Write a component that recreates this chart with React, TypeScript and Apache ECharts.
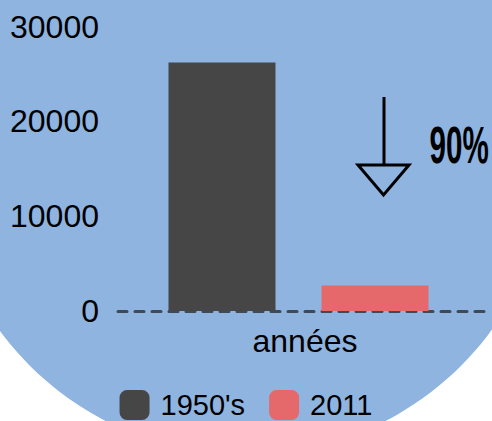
import React, { useEffect, useRef } from "react";
import * as echarts from "echarts";

const categories = ["années"];
const seriesNames = ["1950's", "2011"];
const values1950s = [26200];
const values2011 = [2700];
const yTicks = { min: 0, max: 30000, interval: 10000 };
const annotationText = "90%";

export default function App() {
  const ref = useRef<HTMLDivElement>(null);
  useEffect(() => {
    if (!ref.current) return;
    const chart = echarts.init(ref.current, undefined, { renderer: "svg" });
    const font = "Liberation Sans";
    chart.setOption({
      animation: false,
      backgroundColor: "#ffffff",
      textStyle: { fontFamily: font },
      graphic: [
        {
          type: "circle",
          z: -1,
          silent: true,
          shape: { cx: 245.5, cy: 150, r: 305 },
          style: { fill: "#8FB4E0" },
        },
        {
          type: "line",
          z: 10,
          shape: { x1: 384, y1: 97, x2: 384, y2: 165 },
          style: { stroke: "#000", lineWidth: 3 },
        },
        {
          type: "polygon",
          z: 10,
          shape: { points: [[358, 165], [409, 165], [383.5, 195]] },
          style: { stroke: "#000", lineWidth: 3, fill: "none", lineJoin: "miter" },
        },
        {
          type: "text",
          z: 10,
          x: 429.5,
          y: 145.5,
          scaleX: 0.58,
          style: {
            text: annotationText,
            font: 'bold 51px "Liberation Sans"',
            fill: "#000",
            textAlign: "left",
            textVerticalAlign: "middle",
          },
        },
      ],
      legend: {
        top: 390,
        left: "center",
        padding: 0,
        itemWidth: 30,
        itemHeight: 30,
        itemGap: 24,
        icon: "roundRect",
        textStyle: {
          fontSize: 29,
          color: "#000",
          fontFamily: font,
          padding: [0, 0, 0, 6],
        },
        data: seriesNames,
      },
      grid: [
        { left: 105, right: 0, top: 26.6, bottom: 110, outerBoundsMode: "none", containLabel: false },
        { left: 118, right: 0, top: 26.6, bottom: 110, outerBoundsMode: "none", containLabel: false },
      ],
      xAxis: [
        {
          type: "category",
          gridIndex: 0,
          data: categories,
          axisLine: { show: false },
          axisTick: { show: false },
          axisLabel: { show: false },
        },
        {
          type: "category",
          gridIndex: 1,
          data: categories,
          axisLine: {
            show: true,
            lineStyle: { color: "#3E4A56", width: 3, type: [9, 8] },
          },
          axisTick: { show: false },
          axisLabel: { fontSize: 32, color: "#000", margin: 14, fontFamily: font },
        },
      ],
      yAxis: [
        {
          type: "value",
          gridIndex: 0,
          min: yTicks.min,
          max: yTicks.max,
          interval: yTicks.interval,
          axisLine: { show: false },
          axisTick: { show: false },
          splitLine: { show: false },
          axisLabel: {
            fontSize: 32,
            color: "#000",
            margin: 6,
            fontFamily: font,
            formatter: (v: number) => String(v),
          },
        },
        {
          type: "value",
          gridIndex: 1,
          min: yTicks.min,
          max: yTicks.max,
          interval: yTicks.interval,
          show: false,
        },
      ],
      series: [
        {
          name: seriesNames[0],
          type: "bar",
          xAxisIndex: 0,
          yAxisIndex: 0,
          data: values1950s,
          barWidth: 107,
          barGap: "43%",
          itemStyle: { color: "#464646" },
        },
        {
          name: seriesNames[1],
          type: "bar",
          xAxisIndex: 0,
          yAxisIndex: 0,
          data: values2011,
          barWidth: 107,
          barGap: "43%",
          itemStyle: { color: "#E5696A" },
        },
      ],
    });
    return () => chart.dispose();
  }, []);
  return (
    <div
      ref={ref}
      style={{ position: "fixed", left: 0, top: 0, width: 492, height: 421 }}
    />
  );
}
